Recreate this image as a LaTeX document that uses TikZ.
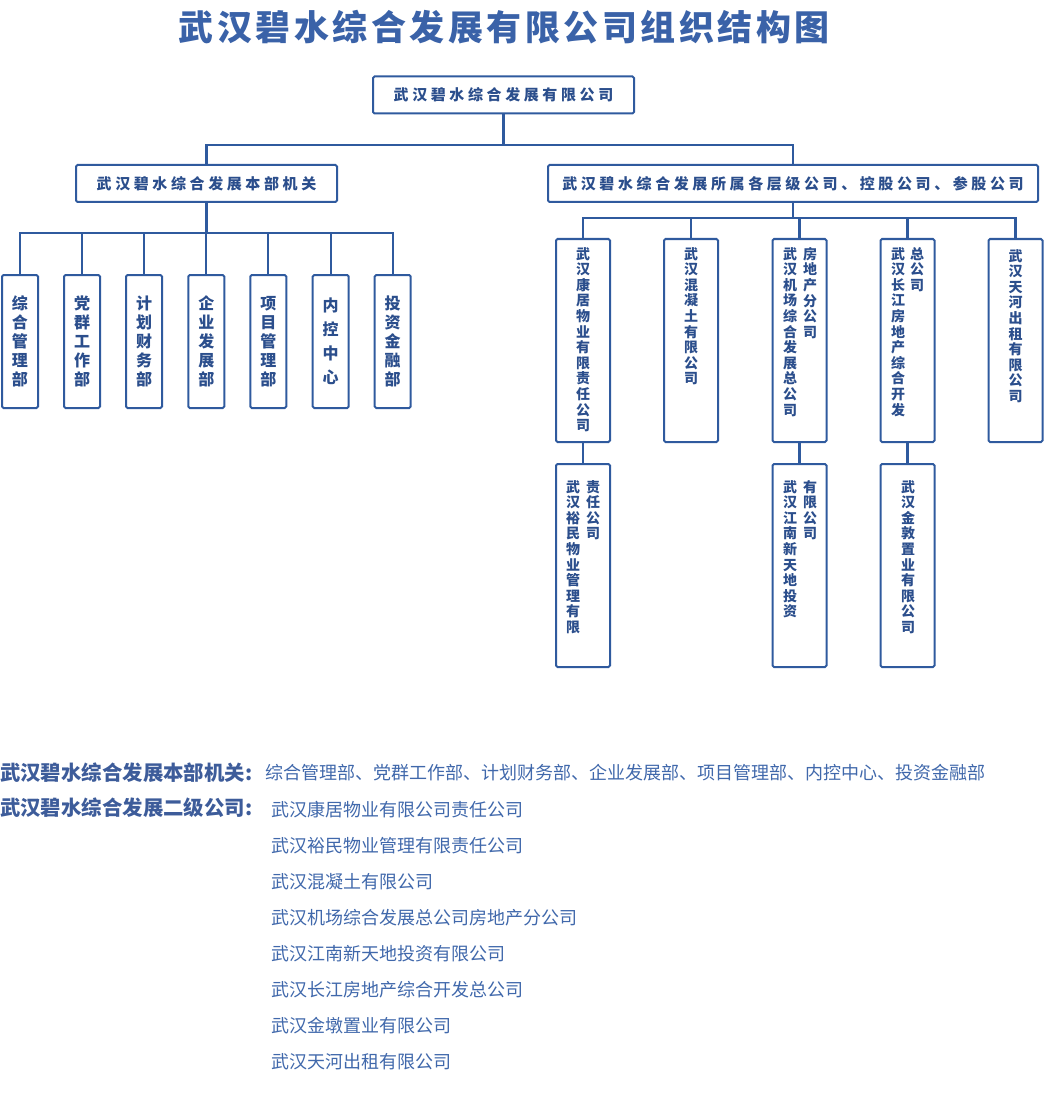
\documentclass[tikz,border=0pt]{standalone}
\usepackage{fontspec}
\newfontfamily\cjk{Noto Sans CJK SC}
\newfontfamily\cjksp[LetterSpace=24]{Noto Sans CJK SC}
\newfontfamily\cjkti[LetterSpace=10]{Noto Sans CJK SC}
\definecolor{lineblue}{HTML}{2F5A9E}
\definecolor{boxtext}{HTML}{2B4E8C}
\definecolor{titleblue}{HTML}{3A62A8}
\definecolor{lblue}{HTML}{3D5C9A}
\definecolor{tblue}{HTML}{4068AB}
\makeatletter
\def\vt#1{\vbox{\vt@#1\relax}}
\def\vt@#1{\ifx#1\relax\else\hbox to 1em{\hss#1\hss}\expandafter\vt@\fi}
\makeatother
\tikzset{
  orgbox/.style={draw=lineblue, line width=2pt, rounded corners=1.5pt, inner sep=0pt},
  hbx/.style={orgbox, minimum height=37pt, font=\cjksp\bfseries\fontsize{15}{18}\selectfont, text=boxtext},
  vbig/.style={orgbox, minimum width=36pt, minimum height=133pt},
  vsmall/.style={orgbox, minimum width=54pt, minimum height=203pt},
  conn/.style={draw=lineblue, line width=2.2pt},
  vtxt/.style={inner sep=0pt, text=boxtext, anchor=north, font=\cjk\bfseries\fontsize{14}{15.6}\selectfont},
  vtxtbig/.style={inner sep=0pt, text=boxtext, font=\cjk\bfseries\fontsize{16}{19}\selectfont},
  lbl/.style={anchor=west, inner sep=0pt, text=lblue, font=\cjk\bfseries\fontsize{20.4}{24}\selectfont},
  itm/.style={anchor=west, inner sep=0pt, text=tblue, font=\cjk\fontsize{18}{22}\selectfont},
}
\begin{document}
\begin{tikzpicture}[x=1pt,y=-1pt]
\useasboundingbox (0,0) rectangle (1043,1115);
% title
\node[inner sep=0pt, text=titleblue, font=\cjkti\bfseries\fontsize{35}{40}\selectfont] (title) at (504,27) {武汉碧水综合发展有限公司组织结构图};
% level 0/1
\node[hbx, minimum width=261pt] (top) at (503.5,95) {武汉碧水综合发展有限公司};
\node[hbx, minimum width=261pt] (left) at (206.5,183.5) {武汉碧水综合发展本部机关};
\node[hbx, minimum width=490pt] (right) at (793,183.5) {武汉碧水综合发展所属各层级公司、控股公司、参股公司};
\coordinate (bus0) at (0,145);
\coordinate (busL) at (0,233);
\coordinate (busR) at (0,218);
\draw[conn] (top.south) -- (top.south |- bus0);
\draw[conn] (top.south |- bus0) -| (left.north);
\draw[conn] (top.south |- bus0) -| (right.north);
% left departments
\foreach \n/\x/\txt in {l1/20/综合管理部, l2/82/党群工作部, l3/144/计划财务部, l4/206.3/企业发展部, l5/268.3/项目管理部, l7/392.7/投资金融部}{
  \node[vbig] (\n) at (\x,341.5) {};
  \node[vtxtbig] (\n t) at (\n) {\expandafter\vt\expandafter{\txt}};
}
\node[vbig] (l6) at (330.7,341.5) {};
\node[vtxtbig, font=\cjk\bfseries\fontsize{16}{24}\selectfont] (l6t) at (l6) {\vt{内控中心}};
\draw[conn] (left.south) -- (left.south |- busL);
\foreach \n in {l1,l2,l3,l4,l5,l6,l7}{
  \draw[conn] (left.south |- busL) -| (\n.north);
}
% right companies
\node[vsmall] (r1) at (583,340.5) {};
\node[vsmall] (r2) at (691,340.5) {};
\node[vsmall] (r3) at (799.5,340.5) {};
\node[vsmall] (r4) at (907.5,340.5) {};
\node[vsmall] (r5) at (1015.5,340.5) {};
\node[vtxt] (r1t) at ([yshift=-9pt]r1.north) {\vt{武汉康居物业有限责任公司}};
\node[vtxt] (r2t) at ([yshift=-9pt]r2.north) {\vt{武汉混凝土有限公司}};
\node[vtxt] (r3ta) at ([xshift=-9.5pt,yshift=-9pt]r3.north) {\vt{武汉机场综合发展总公司}};
\node[vtxt] (r3tb) at ([xshift=10.5pt,yshift=-9pt]r3.north) {\vt{房地产分公司}};
\node[vtxt] (r4ta) at ([xshift=-9.5pt,yshift=-9pt]r4.north) {\vt{武汉长江房地产综合开发}};
\node[vtxt] (r4tb) at ([xshift=9.5pt,yshift=-9pt]r4.north) {\vt{总公司}};
\node[vtxt] (r5t) at ([yshift=-11pt]r5.north) {\vt{武汉天河出租有限公司}};
\draw[conn] (right.south) -- (right.south |- busR);
\foreach \n in {r1,r2,r3,r4,r5}{
  \draw[conn] (right.south |- busR) -| (\n.north);
}
% second level
\node[vsmall] (s1) at (583,565.5) {};
\node[vsmall] (s3) at (799.5,565.5) {};
\node[vsmall] (s4) at (907.5,565.5) {};
\node[vtxt] (s1ta) at ([xshift=-10pt,yshift=-17pt]s1.north) {\vt{武汉裕民物业管理有限}};
\node[vtxt] (s1tb) at ([xshift=10pt,yshift=-17pt]s1.north) {\vt{责任公司}};
\node[vtxt] (s3ta) at ([xshift=-9.5pt,yshift=-17pt]s3.north) {\vt{武汉江南新天地投资}};
\node[vtxt] (s3tb) at ([xshift=10.5pt,yshift=-17pt]s3.north) {\vt{有限公司}};
\node[vtxt] (s4t) at ([xshift=0.5pt,yshift=-17pt]s4.north) {\vt{武汉金敦置业有限公司}};
\draw[conn] (r1.south) -- (s1.north);
\draw[conn] (r3.south) -- (s3.north);
\draw[conn] (r4.south) -- (s4.north);
% bottom list
\node[lbl] (lab1) at (0,773) {武汉碧水综合发展本部机关:};
\node[itm] (txt1) at (265,773) {综合管理部、党群工作部、计划财务部、企业发展部、项目管理部、内控中心、投资金融部};
\node[lbl] (lab2) at (0,808) {武汉碧水综合发展二级公司:};
\node[itm] (c1) at (271,810) {武汉康居物业有限公司责任公司};
\node[itm] (c2) at (271,846) {武汉裕民物业管理有限责任公司};
\node[itm] (c3) at (271,882) {武汉混凝土有限公司};
\node[itm] (c4) at (271,918) {武汉机场综合发展总公司房地产分公司};
\node[itm] (c5) at (271,954) {武汉江南新天地投资有限公司};
\node[itm] (c6) at (271,990) {武汉长江房地产综合开发总公司};
\node[itm] (c7) at (271,1026) {武汉金墩置业有限公司};
\node[itm] (c8) at (271,1062) {武汉天河出租有限公司};
\end{tikzpicture}
\end{document}
